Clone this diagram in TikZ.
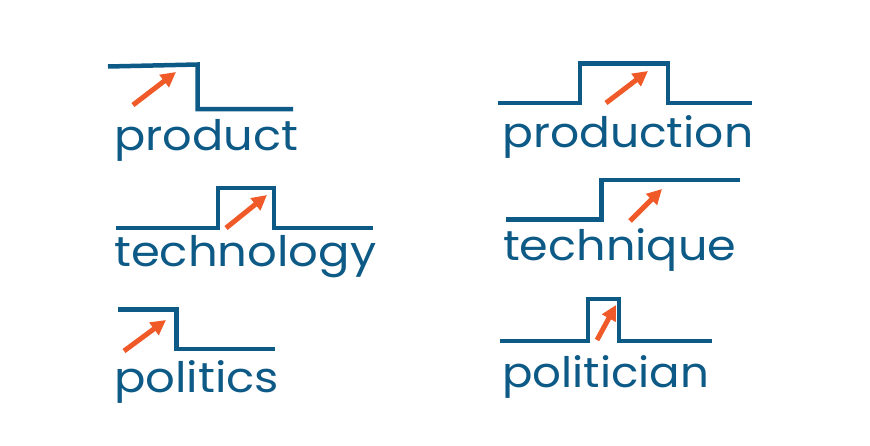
\documentclass[tikz,border=0pt]{standalone}
\usepackage{fontspec}
\setmainfont{Poppins}
\usetikzlibrary{arrows.meta}
\definecolor{pitchblue}{RGB}{14,90,135}
\definecolor{stressorange}{RGB}{240,90,40}
\newcommand{\wordbox}[2]{\resizebox{#1pt}{\height}{#2}}
\tikzset{
  pitch/.style={draw=pitchblue, line width=4.5pt, line join=miter},
  stress/.style={draw=stressorange, line width=5pt, -{Triangle[length=15pt,width=15pt]}},
  word/.style={text=pitchblue, font=\fontsize{42}{42}\selectfont, anchor=base west, inner sep=0pt}
}
\begin{document}
\begin{tikzpicture}[x=1pt,y=-1pt]
\useasboundingbox (0,0) rectangle (870,445);
% product
\draw[pitch] (108,66.5) -- (197.5,64.5) -- (197.5,109) -- (293,109);
\coordinate (a1s) at (133,105); \coordinate (a1e) at (176,72);
\draw[stress] (a1s) -- (a1e);
\node[word] (w1) at (114,150) {\wordbox{184}{product}};
% production
\draw[pitch] (498,103) -- (580,103) -- (580,63.5) -- (668,63.5) -- (668,103) -- (752,103);
\coordinate (a2s) at (606,103); \coordinate (a2e) at (648,71);
\draw[stress] (a2s) -- (a2e);
\node[word] (w2) at (502,147) {\wordbox{251}{production}};
% technology
\draw[pitch] (116,228) -- (218,228) -- (218,188) -- (274,188) -- (274,228) -- (373,228);
\coordinate (a3s) at (226,228); \coordinate (a3e) at (267,195);
\draw[stress] (a3s) -- (a3e);
\node[word] (w3) at (114,266) {\wordbox{262}{technology}};
% technique
\draw[pitch] (506,219.5) -- (601.5,219.5) -- (601.5,180) -- (740,180);
\coordinate (a4s) at (630,221); \coordinate (a4e) at (662,189);
\draw[stress] (a4s) -- (a4e);
\node[word] (w4) at (503,260) {\wordbox{233}{technique}};
% politics
\draw[pitch] (118,309.5) -- (176.5,309.5) -- (176.5,349) -- (275,349);
\coordinate (a5s) at (124,351); \coordinate (a5e) at (166,320);
\draw[stress] (a5s) -- (a5e);
\node[word] (w5) at (114,392) {\wordbox{165}{politics}};
% politician
\draw[pitch] (500,341) -- (588,341) -- (588,299) -- (619,299) -- (619,341) -- (712,341);
\coordinate (a6s) at (597,340); \coordinate (a6e) at (616,305);
\draw[stress] (a6s) -- (a6e);
\node[word] (w6) at (502,387) {\wordbox{207}{politician}};
\end{tikzpicture}
\end{document}
